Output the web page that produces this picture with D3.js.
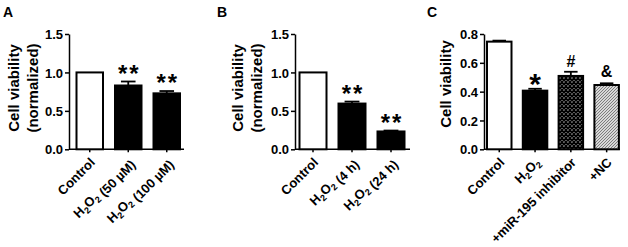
<!DOCTYPE html>
<html>
<head>
<meta charset="utf-8">
<script src="https://cdn.jsdelivr.net/npm/d3@7"></script>
<style>
  body { margin: 0; background: #fff; }
  svg { display: block; font-family: "Liberation Sans", Arial, sans-serif; font-weight: bold; }
  svg text { font-weight: bold; }
</style>
</head>
<body>
<div id="chart"></div>
<script>
// values
const catsA = ["Control", "H2O2 (50 µM)", "H2O2 (100 µM)"];
const meanA = [1.0, 0.83, 0.728];
const errA = [0, 0.052, 0.03];
const markA = ["", "**", "**"];

const catsB = ["Control", "H2O2 (4 h)", "H2O2 (24 h)"];
const meanB = [1.0, 0.595, 0.232];
const errB = [0, 0.026, 0.012];
const markB = ["", "**", "**"];

const catsC = ["Control", "H2O2", "+miR-195 inhibitor", "+NC"];
const meanC = [0.747, 0.407, 0.509, 0.446];
const errC = [0.007, 0.013, 0.029, 0.012];
const markC = ["", "*", "#", "&"];

const ticksAB = [0, 0.5, 1.0, 1.5];
const ticksC = [0, 0.2, 0.4, 0.6, 0.8];

const W = 628, H = 247;
const svg = d3.select("#chart").append("svg").attr("width", W).attr("height", H);

// fill patterns for panel C
const defs = svg.append("defs");
const cross = defs.append("pattern").attr("id", "cross")
    .attr("patternUnits", "userSpaceOnUse").attr("width", 4).attr("height", 4);
cross.append("rect").attr("width", 4).attr("height", 4).attr("fill", "#fff");
cross.append("path").attr("d", "M0,0L4,4M4,0L0,4").attr("stroke", "#000").attr("stroke-width", 1.6);
const hatch = defs.append("pattern").attr("id", "hatch")
    .attr("patternUnits", "userSpaceOnUse").attr("width", 3).attr("height", 3);
hatch.append("rect").attr("width", 3).attr("height", 3).attr("fill", "#d8d8d8");
hatch.append("path").attr("d", "M-1,1L1,-1M0,3L3,0M2,4L4,2").attr("stroke", "#666").attr("stroke-width", 0.8);

const markSize = { "**": 24, "*": 30, "#": 16, "&": 16 };
const markLift = { "**": 3, "*": 8, "#": -1.5, "&": -3 };

const panels = [
    { letter: "A", lx: 3, cats: catsA, mean: meanA, err: errA, mark: markA, ticks: ticksAB, max: 1.5,
      axisX: 69, xEnd: 184, x0: 76.5, step: 38.5, bw: 26.5,
      fills: ["#fff", "#000", "#000"], ylab: ["Cell viability", "(normalized)"], ylabX: [19, 38], ylabY: 88 },
    { letter: "B", lx: 217, cats: catsB, mean: meanB, err: errB, mark: markB, ticks: ticksAB, max: 1.5,
      axisX: 295, xEnd: 410, x0: 299.5, step: 39, bw: 27,
      fills: ["#fff", "#000", "#000"], ylab: ["Cell viability", "(normalized)"], ylabX: [242.5, 261.5], ylabY: 88 },
    { letter: "C", lx: 427, cats: catsC, mean: meanC, err: errC, mark: markC, ticks: ticksC, max: 0.8,
      axisX: 484, xEnd: 620, x0: 487, step: 35.8, bw: 24.5,
      fills: ["#fff", "#000", "url(#cross)", "url(#hatch)"], ylab: ["Cell viability"], ylabX: [450.5], ylabY: 84 }
];

const yTop = 34, yBottom = 149.3;

function labelText(sel, s) {
    // write H2O2 with subscripts
    const parts = s.split(/(H2O2)/);
    parts.forEach(p => {
        if (p === "H2O2") {
            sel.append("tspan").text("H");
            sel.append("tspan").attr("font-size", "0.7em").attr("dy", 3).text("2");
            sel.append("tspan").attr("dy", -3).text("O");
            sel.append("tspan").attr("font-size", "0.7em").attr("dy", 3).text("2");
            sel.append("tspan").attr("dy", -3).text("");
        } else if (p) {
            sel.append("tspan").text(p);
        }
    });
}

panels.forEach(p => {
    const g = svg.append("g");
    const n = p.cats.length;
    const r0 = p.x0 - (p.step - p.bw) / 2;
    const pad = (p.step - p.bw) / p.step;
    const x = d3.scaleBand().domain(p.cats).range([r0, r0 + n * p.step])
        .paddingInner(pad).paddingOuter(pad / 2);
    const y = d3.scaleLinear().domain([0, p.max]).range([yBottom, yTop]);

    // panel letter
    g.append("text").attr("x", p.lx).attr("y", 17).attr("font-size", 14).text(p.letter);

    // y axis label
    p.ylab.forEach((t, i) => {
        g.append("text")
            .attr("transform", `translate(${p.ylabX[i]},${p.ylabY}) rotate(-90)`)
            .attr("text-anchor", "middle").attr("font-size", 15).text(t);
    });

    // y axis
    const ya = g.append("g").attr("transform", `translate(${p.axisX},0)`)
        .call(d3.axisLeft(y).tickValues(p.ticks).tickFormat(d3.format(".1f")).tickSize(4).tickSizeOuter(0).tickPadding(2));
    ya.attr("font-family", null).attr("font-size", 13);
    ya.selectAll("text").attr("fill", "#000").attr("dy", "0.36em");
    ya.selectAll("line, path").attr("stroke", "#000").attr("stroke-width", 1.5);

    // x axis
    const xa = g.append("g").attr("transform", `translate(0,${yBottom})`)
        .call(d3.axisBottom(x).tickSize(3).tickSizeOuter(0).tickFormat(""));
    xa.select(".domain").remove();
    xa.selectAll("line").attr("stroke", "#000").attr("stroke-width", 1.5);
    g.append("line").attr("x1", p.axisX).attr("x2", p.xEnd).attr("y1", yBottom).attr("y2", yBottom)
        .attr("stroke", "#000").attr("stroke-width", 1.5);

    // x labels
    p.cats.forEach(c => {
        const t = g.append("text")
            .attr("transform", `translate(${x(c) + x.bandwidth() / 2 + 6},${yBottom + 14}) rotate(-45)`)
            .attr("text-anchor", "end").attr("font-size", 13);
        labelText(t, c);
    });

    // error bars (upper only)
    const capW = p.bw * 0.55;
    p.cats.forEach((c, i) => {
        if (!p.err[i]) return;
        const cx = x(c) + x.bandwidth() / 2;
        const yt = y(p.mean[i] + p.err[i]);
        g.append("line").attr("x1", cx).attr("x2", cx).attr("y1", y(p.mean[i])).attr("y2", yt)
            .attr("stroke", "#000").attr("stroke-width", 1.8);
        g.append("line").attr("x1", cx - capW / 2).attr("x2", cx + capW / 2).attr("y1", yt).attr("y2", yt)
            .attr("stroke", "#000").attr("stroke-width", 1.8);
    });

    // bars
    g.selectAll(".bar").data(p.cats).enter().append("rect")
        .attr("class", "bar")
        .attr("x", d => x(d))
        .attr("width", x.bandwidth())
        .attr("y", (d, i) => y(p.mean[i]))
        .attr("height", (d, i) => yBottom - y(p.mean[i]))
        .attr("fill", (d, i) => p.fills[i])
        .attr("stroke", "#000").attr("stroke-width", 2);

    // significance marks
    p.cats.forEach((c, i) => {
        const m = p.mark[i];
        if (!m) return;
        const cx = x(c) + x.bandwidth() / 2;
        const yt = y(p.mean[i] + p.err[i]);
        g.append("text").attr("x", cx + (m === "**" ? 1 : 0)).attr("y", yt - 3 + markLift[m])
            .attr("text-anchor", "middle").attr("font-size", markSize[m])
            .attr("letter-spacing", m === "**" ? 2 : 0).text(m);
    });
});
</script>
</body>
</html>
